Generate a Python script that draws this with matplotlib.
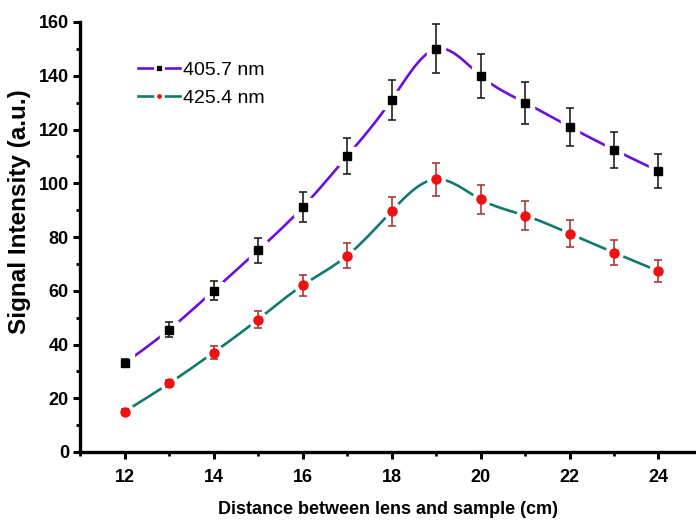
import numpy as np
import matplotlib
matplotlib.use("Agg")
import matplotlib.pyplot as plt
from matplotlib.ticker import MultipleLocator

plt.rcParams['font.family'] = ['Liberation Sans', 'DejaVu Sans']

# Signal intensity versus lens-to-sample distance
distance_cm = [12, 13, 14, 15, 16, 17, 18, 19, 20, 21, 22, 23, 24]
signal_405 = [33, 45.5, 60, 75, 91, 110, 131, 150, 140, 130, 121, 112.5, 104.5]
err_405 = [1.5, 2.8, 3.5, 4.7, 5.6, 6.7, 7.6, 9.1, 8.2, 7.8, 7.0, 6.7, 6.3]
signal_425 = [15, 25.5, 37, 49.3, 62, 73, 89.6, 101.5, 94, 88, 81.3, 74.2, 67.3]
err_425 = [1.0, 1.2, 2.4, 3.1, 3.9, 4.7, 5.4, 6.2, 5.4, 5.5, 5.0, 4.6, 4.2]

series_labels = ["405.7 nm", "425.4 nm"]
x_ticks = [12, 14, 16, 18, 20, 22, 24]
y_ticks = [0, 20, 40, 60, 80, 100, 120, 140, 160]


def natural_spline(x, y, n=600):
    """Smooth curve through the points using a natural cubic spline."""
    x = np.asarray(x, float)
    y = np.asarray(y, float)
    m = len(x)
    h = np.diff(x)
    A = np.zeros((m, m))
    b = np.zeros(m)
    A[0, 0] = A[-1, -1] = 1.0
    for i in range(1, m - 1):
        A[i, i - 1] = h[i - 1]
        A[i, i] = 2 * (h[i - 1] + h[i])
        A[i, i + 1] = h[i]
        b[i] = 6 * ((y[i + 1] - y[i]) / h[i] - (y[i] - y[i - 1]) / h[i - 1])
    M = np.linalg.solve(A, b)
    xs = np.linspace(x[0], x[-1], n)
    idx = np.clip(np.searchsorted(x, xs) - 1, 0, m - 2)
    x0, x1 = x[idx], x[idx + 1]
    hh = x1 - x0
    t0, t1 = x1 - xs, xs - x0
    ys = (M[idx] * t0 ** 3 + M[idx + 1] * t1 ** 3) / (6 * hh) \
        + (y[idx] / hh - M[idx] * hh / 6) * t0 \
        + (y[idx + 1] / hh - M[idx + 1] * hh / 6) * t1
    return xs, ys


fig = plt.figure(figsize=(6.96, 5.24), dpi=100)
ax = fig.add_axes([80 / 696, 72 / 524, 616 / 696, 430 / 524])

styles = [
    dict(y=signal_405, e=err_405, line="#6a10d8", marker="s", ms=6.0,
         mfc="black", ecol="#222222"),
    dict(y=signal_425, e=err_425, line="#127a6c", marker="o", ms=6.5,
         mfc="#ee1111", ecol="#a83a3a"),
]

handles = []
for st, lab in zip(styles, series_labels):
    xs, ys = natural_spline(distance_cm, st["y"])
    ax.plot(xs, ys, color=st["line"], lw=1.9, zorder=2, solid_capstyle="butt")
    # white halo opens a small gap in the curve around each marker
    ax.plot(distance_cm, st["y"], ls="none", marker=st["marker"], ms=12.5,
            mfc="white", mec="white", zorder=3)
    ax.errorbar(distance_cm, st["y"], yerr=st["e"], fmt="none", ecolor=st["ecol"],
                elinewidth=1.2, capsize=2.8, capthick=1.2, zorder=4)
    ax.plot(distance_cm, st["y"], ls="none", marker=st["marker"], ms=st["ms"],
            mfc=st["mfc"], mec=st["mfc"], zorder=5)
    h, = ax.plot([], [], color=st["line"], lw=1.9, marker=st["marker"], ms=5.5,
                 mfc=st["mfc"], mec="white", mew=2.0, label=lab)
    handles.append(h)

ax.set_xlim(11, 11 + 616 / 44.5)
ax.set_ylim(0, 160)
ax.set_xticks(x_ticks)
ax.set_yticks(y_ticks)
ax.xaxis.set_minor_locator(MultipleLocator(1))
ax.yaxis.set_minor_locator(MultipleLocator(10))

for s in ["top", "right"]:
    ax.spines[s].set_visible(False)
for s in ["left", "bottom"]:
    ax.spines[s].set_linewidth(2.4)

ax.tick_params(which="major", direction="out", length=5, width=2.2, labelsize=13)
ax.tick_params(axis="x", which="major", pad=7)
ax.tick_params(axis="y", which="major", pad=3)
ax.tick_params(which="minor", direction="out", length=3, width=2.0)
for lbl in ax.get_xticklabels() + ax.get_yticklabels():
    lbl.set_fontweight("bold")

ax.set_xlabel("Distance between lens and sample (cm)", fontsize=13, fontweight="bold", labelpad=11)
ax.set_ylabel("Signal Intensity (a.u.)", fontsize=17.5, fontweight="bold")
ax.yaxis.set_label_coords(-0.079, 0.56)

leg = ax.legend(handles=handles, loc="upper left", bbox_to_anchor=(0.065, 0.95),
                frameon=False, fontsize=14, handlelength=2.2, handletextpad=0.15,
                labelspacing=0.55)

fig.savefig("out.png", dpi=100)
